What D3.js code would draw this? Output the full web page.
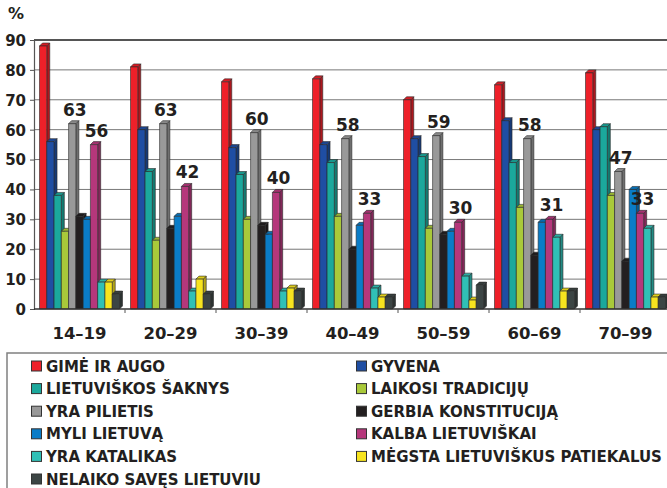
<!DOCTYPE html>
<html>
<head>
<meta charset="utf-8">
<script src="https://cdn.jsdelivr.net/npm/d3@7"></script>
<style>
  body { margin: 0; background: #fff; }
  svg { display: block; font-family: "DejaVu Sans", Verdana, sans-serif; font-weight: bold; }
</style>
</head>
<body>
<svg width="667" height="488"></svg>
<script>
const groups = ["14–19", "20–29", "30–39", "40–49", "50–59", "60–69", "70–99"];
const seriesNames = [
  "GIMĖ IR AUGO", "GYVENA", "LIETUVIŠKOS ŠAKNYS", "LAIKOSI TRADICIJŲ",
  "YRA PILIETIS", "GERBIA KONSTITUCIJĄ", "MYLI LIETUVĄ", "KALBA LIETUVIŠKAI",
  "YRA KATALIKAS", "MĖGSTA LIETUVIŠKUS PATIEKALUS", "NELAIKO SAVĘS LIETUVIU"
];
const seriesColors = [
  "#ee2029", "#1f4ea3", "#1ba89c", "#a9c93a", "#999999", "#231f20",
  "#0a7cc7", "#b5377b", "#30c0b6", "#f7e41f", "#3c4544"
];
const gime = [89, 82, 77, 78, 71, 76, 80];
const gyvena = [57, 61, 55, 56, 58, 64, 61];
const saknys = [39, 47, 46, 50, 52, 50, 62];
const tradicijos = [27, 24, 31, 32, 28, 35, 39];
const pilietis = [63, 63, 60, 58, 59, 58, 47];
const konstitucija = [32, 28, 29, 21, 26, 19, 17];
const myli = [31, 32, 26, 29, 27, 30, 41];
const kalba = [56, 42, 40, 33, 30, 31, 33];
const katalikas = [10, 7, 7, 8, 12, 25, 28];
const patiekalai = [10, 11, 8, 5, 4, 7, 5];
const nelaiko = [6, 6, 7, 5, 9, 7, 5];
const yTicks = [0, 10, 20, 30, 40, 50, 60, 70, 80, 90];

const seriesValues = [gime, gyvena, saknys, tradicijos, pilietis, konstitucija,
  myli, kalba, katalikas, patiekalai, nelaiko];
const labelled = [4, 7]; // bars with value labels on top

const svg = d3.select("svg");
const depth = 3;

const x0 = d3.scaleBand().domain(groups).range([34, 671]);
const x1 = d3.scaleBand().domain(d3.range(seriesNames.length)).range([5.5, 85.5]);
const y = d3.scaleLinear().domain([0, 90]).range([309, 40]);

// gridlines
svg.append("g")
  .selectAll("line")
  .data(yTicks.slice(1))
  .join("line")
  .attr("x1", 34).attr("x2", 667)
  .attr("y1", d => y(d)).attr("y2", d => y(d))
  .attr("stroke", d => d === 90 ? "#555" : "#777")
  .attr("stroke-width", d => d === 90 ? 2 : 1);

// y axis
const yAxis = svg.append("g")
  .attr("transform", "translate(34,0)")
  .call(d3.axisLeft(y).tickValues(yTicks).tickSize(4).tickPadding(4));
yAxis.select(".domain").attr("stroke", "#555").attr("stroke-width", 1.2);
yAxis.selectAll(".tick line").attr("stroke", "#555");
yAxis.selectAll(".tick text")
  .attr("font-family", "DejaVu Sans").attr("font-weight", "bold")
  .attr("font-size", 15).attr("fill", "#231f20").attr("dy", "0.36em");

svg.append("text")
  .attr("x", 8).attr("y", 19)
  .attr("font-size", 16).attr("fill", "#231f20")
  .text("%");

// bars
const flat = [];
groups.forEach((g, gi) => {
  seriesValues.forEach((vals, si) => flat.push({ g, si, v: vals[gi] }));
});

const barG = svg.append("g");
flat.forEach(d => {
  const c = seriesColors[d.si];
  const bx = x0(d.g) + x1(d.si);
  const w = x1.bandwidth();
  const top = y(d.v) + depth;
  const base = y(0);
  const side = d3.color(c).darker(0.9).formatHex();
  const lid = d3.color(c).darker(0.3).formatHex();
  const b = barG.append("g").attr("stroke", "#2a2a2a").attr("stroke-width", 0.6)
    .attr("stroke-linejoin", "round");
  b.append("path")
    .attr("d", `M${bx + w},${top}L${bx + w + depth},${top - depth}L${bx + w + depth},${base - depth}L${bx + w},${base}Z`)
    .attr("fill", side);
  b.append("path")
    .attr("d", `M${bx},${top}L${bx + depth},${top - depth}L${bx + w + depth},${top - depth}L${bx + w},${top}Z`)
    .attr("fill", lid);
  b.append("rect")
    .attr("x", bx).attr("y", top)
    .attr("width", w).attr("height", base - top)
    .attr("fill", c);
});

// value labels
svg.append("g")
  .selectAll("text")
  .data(flat.filter(d => labelled.includes(d.si)))
  .join("text")
  .attr("x", d => x0(d.g) + x1(d.si) + x1.bandwidth() / 2 + 2.5)
  .attr("y", d => y(d.v) - 5)
  .attr("text-anchor", "middle")
  .attr("font-size", 17)
  .attr("fill", "#231f20")
  .text(d => d.v);

// x axis
svg.append("line")
  .attr("x1", 34).attr("x2", 667)
  .attr("y1", y(0)).attr("y2", y(0))
  .attr("stroke", "#333").attr("stroke-width", 1.5);
const xAxis = svg.append("g")
  .attr("transform", `translate(0,${y(0)})`)
  .call(d3.axisBottom(x0).tickSize(0).tickPadding(18));
xAxis.select(".domain").remove();
xAxis.selectAll(".tick text")
  .attr("font-family", "DejaVu Sans").attr("font-weight", "bold")
  .attr("font-size", 16.5).attr("fill", "#231f20");
svg.append("g")
  .selectAll("line")
  .data(groups.slice(1))
  .join("line")
  .attr("x1", d => x0(d)).attr("x2", d => x0(d))
  .attr("y1", y(0)).attr("y2", y(0) + 4)
  .attr("stroke", "#555");

// legend
svg.append("rect")
  .attr("x", 7).attr("y", 353)
  .attr("width", 700).attr("height", 200)
  .attr("fill", "none").attr("stroke", "#808080").attr("stroke-width", 1.5);

const legend = svg.append("g")
  .selectAll("g")
  .data(seriesNames)
  .join("g")
  .attr("transform", (d, i) => `translate(${i % 2 === 0 ? 31 : 356},${366 + Math.floor(i / 2) * 22.6})`);
legend.append("rect")
  .attr("x", 0.5).attr("y", -5)
  .attr("width", 10).attr("height", 10)
  .attr("fill", (d, i) => seriesColors[i])
  .attr("stroke", "#333").attr("stroke-width", 1);
legend.append("text")
  .attr("x", 15).attr("y", 5.5)
  .attr("font-size", 15)
  .attr("fill", "#231f20")
  .text(d => d);
</script>
</body>
</html>
